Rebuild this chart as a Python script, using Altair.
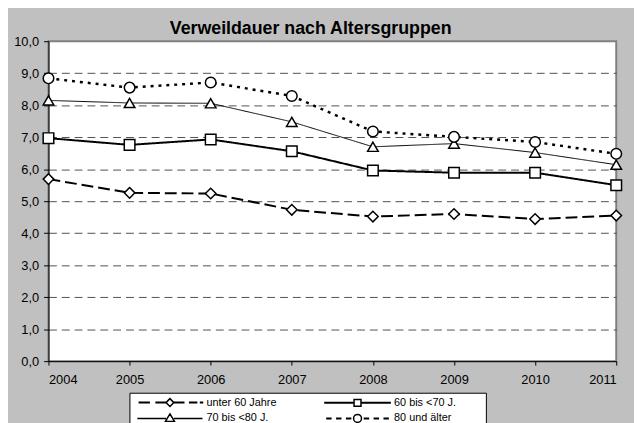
import altair as alt
import pandas as pd

years = [2004, 2005, 2006, 2007, 2008, 2009, 2010, 2011]
series_names = ["unter 60 Jahre", "60 bis <70 J.", "70 bis <80 J.", "80 und älter"]
unter_60 = [5.69, 5.26, 5.24, 4.73, 4.52, 4.60, 4.44, 4.55]
von_60_70 = [6.97, 6.76, 6.93, 6.56, 5.96, 5.89, 5.89, 5.50]
von_70_80 = [8.15, 8.07, 8.06, 7.48, 6.70, 6.80, 6.52, 6.14]
ab_80 = [8.84, 8.55, 8.71, 8.29, 7.18, 7.01, 6.85, 6.48]
y_ticks = [0, 1, 2, 3, 4, 5, 6, 7, 8, 9, 10]

values = [unter_60, von_60_70, von_70_80, ab_80]
rows = []
for name, vals in zip(series_names, values):
    for yr, v in zip(years, vals):
        rows.append({"Jahr": yr, "Wert": v, "Reihe": name})
df = pd.DataFrame(rows)

FONT = "Liberation Sans"
line_styles = {
    "unter 60 Jahre": (2, [12, 5]),
    "60 bis <70 J.": (2, [1, 0]),
    "70 bis <80 J.": (1, [1, 0]),
    "80 und älter": (2.5, [3, 5]),
}
plot_shapes = ["diamond", "square", "triangle-up", "circle"]

# legend symbols: custom paths, symbol size 100 -> 1 unit = 5 px
U = 5.0
def u(px):
    return f"{px / U:.4f}"

def thick(a, b, h=0.25):
    return f"M{u(a)},{u(-h)}L{u(b)},{u(-h)}L{u(b)},{u(h)}L{u(a)},{u(h)}Z"

def thin(a, b):
    return f"M{u(a)},0L{u(b)},0"

m = 4.0
diamond = f"M{u(-m)},0L0,{u(-m)}L{u(m)},0L0,{u(m)}Z"
square = f"M{u(-3.5)},{u(-3.5)}L{u(3.5)},{u(-3.5)}L{u(3.5)},{u(3.5)}L{u(-3.5)},{u(3.5)}Z"
triangle = f"M0,{u(-4.5)}L{u(4.5)},{u(3)}L{u(-4.5)},{u(3)}Z"
circle = f"M{u(4)},0A{u(4)},{u(4)} 0 1,1 {u(-4)},0A{u(4)},{u(4)} 0 1,1 {u(4)},0Z"

leg_paths = [
    thick(-31, -21) + thick(-14, -4) + diamond + thick(4, 14) + thick(20, 27) + thick(31, 33),
    thick(-33, -3.5) + square + thick(3.5, 33),
    thin(-33, -4) + triangle + thin(4, 33),
    thick(-31, -27) + thick(-21, -17) + thick(-11, -7) + circle + thick(7, 11) + thick(17, 21) + thick(27, 31),
]

x_enc = alt.X("Jahr:Q", scale=alt.Scale(domain=[2004, 2011], nice=False, zero=False),
              axis=alt.Axis(values=years, format="d", title=None, grid=False,
                            tickSize=4, labelPadding=9, labelFontSize=13,
                            labelFont=FONT, labelColor="black",
                            domainColor="black", tickColor="black"))
y_enc = alt.Y("Wert:Q", scale=alt.Scale(domain=[0, 10], nice=False, zero=True),
              axis=alt.Axis(values=y_ticks, title=None, grid=True,
                            gridDash=[8, 5], gridColor="#505050",
                            gridOpacity={"condition": {"test": "datum.value >= 10 || datum.value <= 0", "value": 0}, "value": 1},
                            labelExpr="replace(format(datum.value, '.1f'), '.', ',')",
                            tickSize=5, labelPadding=5, labelFontSize=13,
                            labelFont=FONT, labelColor="black",
                            domainColor="black", tickColor="black"))

base = alt.Chart(df)
layers = []
for name in series_names:
    w, d = line_styles[name]
    layers.append(
        base.transform_filter(alt.datum.Reihe == name)
        .mark_line(color="black", strokeWidth=w, strokeDash=d)
        .encode(x=x_enc, y=y_enc)
    )

points = base.mark_point(filled=True, fill="white", stroke="black", strokeWidth=1.5,
                         size=115, opacity=1).encode(
    x=x_enc, y=y_enc,
    shape=alt.Shape("Reihe:N", scale=alt.Scale(domain=series_names, range=plot_shapes), legend=None),
)

# legend-only layer: no rows drawn, legend comes from the explicit shape domain
legend_layer = base.transform_filter("datum.Jahr < 0").mark_point(
    filled=False, color="black", strokeWidth=1.5, size=100, opacity=1).encode(
    x=x_enc, y=y_enc,
    shape=alt.Shape("Reihe:N", scale=alt.Scale(domain=series_names, range=leg_paths),
                    legend=alt.Legend(title="\u00a0", titleOrient="right", titleFontSize=2,
                                      titlePadding=26, titleColor="white",
                                      orient="none", legendX=82, legendY=356, columns=2,
                                      direction="horizontal",
                                      columnPadding=45, rowPadding=1, padding=4,
                                      fillColor="white", strokeColor="black",
                                      labelFont=FONT, labelFontSize=11, labelColor="black",
                                      labelOffset=31, symbolOffset=31,
                                      symbolSize=100, symbolStrokeWidth=1.5,
                                      symbolStrokeColor="black",
                                      symbolOpacity=1)),
)

chart = alt.layer(*layers, points, legend_layer).resolve_scale(shape="independent").properties(
    width=575, height=324,
    autosize=alt.AutoSizeParams(type="none"),
    padding={"left": 41, "top": 31, "right": 18, "bottom": 60},
    background="#C0C0C0",
    title=alt.TitleParams("Verweildauer nach Altersgruppen", font=FONT, fontSize=18,
                          fontWeight="bold", color="black", anchor="middle",
                          frame="group", dx=-22, dy=17, offset=0, baseline="alphabetic"),
).configure_view(fill="white", stroke="#808080", strokeWidth=2)

chart.save("out.html", embed_options={"renderer": "svg", "actions": False})
